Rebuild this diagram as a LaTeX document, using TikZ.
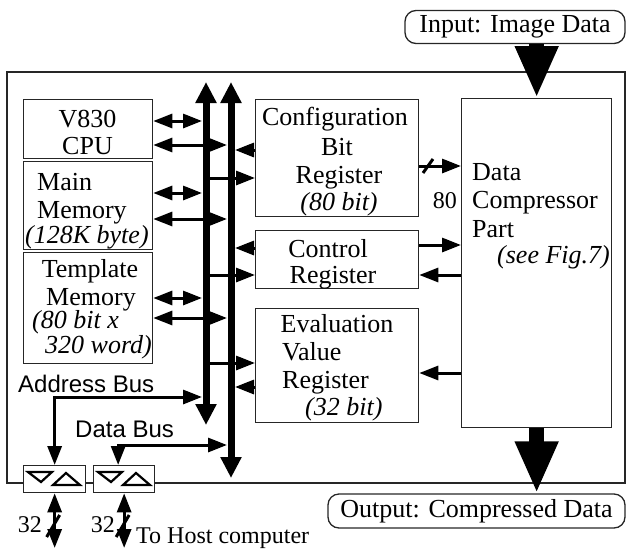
\documentclass[tikz,border=0pt]{standalone}
\usepackage{fontspec}
\setmainfont{Liberation Serif}
\setsansfont{Liberation Sans}
\usetikzlibrary{arrows.meta, positioning, calc}

\tikzset{
  box/.style={draw=black!85, line width=1.3pt, anchor=north west, inner sep=0pt, fill=white},
  txt/.style={font=\fontsize{26}{29}\selectfont, inner sep=0pt},
  itx/.style={font=\fontsize{26}{29}\selectfont\itshape, inner sep=0pt},
  small/.style={font=\fontsize{24}{27}\selectfont, inner sep=0pt},
  buslbl/.style={font=\sffamily\fontsize{24}{27}\selectfont, inner sep=0pt},
  pill/.style={draw=black!85, line width=1.3pt, rounded corners=11pt, inner sep=0pt, font=\fontsize{26}{29}\selectfont},
  con/.style={line width=3pt},
  bus/.style={line width=7pt, {Triangle[length=21pt,width=20pt]}-{Triangle[length=21pt,width=20pt]}},
  fat/.style={line width=15pt, -{Triangle[length=52pt,width=40pt]}},
  tick/.style={line width=3pt},
  tri/.style={line width=2.2pt, line join=miter},
}

\begin{document}
\begin{tikzpicture}[x=1pt, y=-1pt, >={Triangle[length=19pt,width=14pt]}]
    \useasboundingbox (0,0) rectangle (626,549);
    \draw[draw=black!85, line width=1.3pt] (7,72) rectangle (625,483);

    % left column
    \node[box, minimum width=129pt, minimum height=59pt] (cpu) at (23,99) {};
    \node[box, minimum width=129pt, minimum height=88pt] (mm) at (23,161) {};
    \node[box, minimum width=129pt, minimum height=111pt] (tm) at (23,252) {};
    \node[txt, anchor=base] (cpuA) at (87.5,127) {V830};
    \node[txt, anchor=base] (cpuB) at (87.5,154) {CPU};
    \node[txt, anchor=base west] (mmA) at (37,190) {Main};
    \node[txt, anchor=base west] (mmB) at (37,218) {Memory};
    \node[itx, anchor=base west] (mmC) at (25,243) {(128K byte)};
    \node[txt, anchor=base] (tmA) at (90,277) {Template};
    \node[txt, anchor=base] (tmB) at (91,305) {Memory};
    \node[itx, anchor=base west] (tmC) at (32,328) {(80 bit x};
    \node[itx, anchor=base west] (tmD) at (45,353) {320 word)};

    % registers
    \node[box, minimum width=163pt, minimum height=117pt] (cfg) at (255,99) {};
    \node[box, minimum width=163pt, minimum height=58pt] (cr) at (255,230) {};
    \node[box, minimum width=163pt, minimum height=114pt] (ev) at (255,308) {};
    \node[txt, anchor=base] (cfgA) at (335,125) {Configuration};
    \node[txt, anchor=base] (cfgB) at (337,155) {Bit};
    \node[txt, anchor=base] (cfgC) at (339,183) {Register};
    \node[itx, anchor=base] (cfgD) at (339,210) {(80 bit)};
    \node[txt, anchor=base] (crA) at (328,257) {Control};
    \node[txt, anchor=base] (crB) at (333,283) {Register};
    \node[txt, anchor=base] (evA) at (337,332) {Evaluation};
    \node[txt, anchor=base west] (evB) at (282,360) {Value};
    \node[txt, anchor=base west] (evC) at (282,388) {Register};
    \node[itx, anchor=base west] (evD) at (305,415) {(32 bit)};

    % compressor and data in/out
    \node[box, minimum width=150pt, minimum height=329pt] (dcp) at (461,98) {};
    \node[txt, anchor=base west] (dcpA) at (472,180) {Data};
    \node[txt, anchor=base west] (dcpB) at (472,208) {Compressor};
    \node[txt, anchor=base west] (dcpC) at (472,237) {Part};
    \node[itx, anchor=base west] (dcpD) at (497,263) {(see Fig.7)};
    \node[pill, minimum width=220pt, minimum height=33pt] (inbox) at (515,27) {Input: Image Data};
    \node[pill, minimum width=297pt, minimum height=34pt] (outbox) at (476.5,511) {Output: Compressed Data};
    \draw[fat] (dcp.north |- inbox.south) -- (dcp.north);
    \draw[fat] (dcp.south) -- (dcp.south |- outbox.north);

    % buses
    \coordinate (abT) at (206,82);
    \coordinate (abB) at (206,425);
    \coordinate (dbT) at (231,82);
    \coordinate (dbB) at (231,478);
    \draw[bus] (abT) -- (abB);
    \draw[bus] (dbT) -- (dbB);
    \node[buslbl, anchor=base west] (abL) at (18,392) {Address Bus};
    \node[buslbl, anchor=base west] (dbL) at (75,437) {Data Bus};

    \draw[con, <->, shorten >=4pt] (cpu.east |- 0,121) -- (abT |- 0,121);
    \draw[con, <->, shorten >=4pt] (cpu.east |- 0,145) -- (dbT |- 0,145);
    \draw[con, <->, shorten >=4pt] (mm.east |- 0,193) -- (abT |- 0,193);
    \draw[con, <->, shorten >=4pt] (mm.east |- 0,219) -- (dbT |- 0,219);
    \draw[con, <->, shorten >=4pt] (tm.east |- 0,298) -- (abT |- 0,298);
    \draw[con, <->, shorten >=4pt] (tm.east |- 0,318) -- (dbT |- 0,318);
    \draw[con, ->, shorten >=4pt] (cfg.west |- 0,150) -- (dbT |- 0,150);
    \draw[con, ->] (abT |- 0,178) -- (cfg.west |- 0,178);
    \draw[con, ->, shorten >=4pt] (cr.west |- 0,248) -- (dbT |- 0,248);
    \draw[con, ->] (abT |- 0,275) -- (cr.west |- 0,275);
    \draw[con, ->] (abT |- 0,363) -- (ev.west |- 0,363);
    \draw[con, ->, shorten >=4pt] (ev.west |- 0,387) -- (dbT |- 0,387);

    \draw[con, ->] (cfg.east |- 0,166) -- (dcp.west |- 0,166);
    \draw[tick] (423,173) -- (433,159);
    \node[small, anchor=base east] (w80) at (457,208) {80};
    \draw[con, ->] (cr.east |- 0,245) -- (dcp.west |- 0,245);
    \draw[con, ->] (dcp.west |- 0,275) -- (cr.east |- 0,275);
    \draw[con, ->] (dcp.west |- 0,373) -- (ev.east |- 0,373);

    % host interface
    \node[box, minimum width=62pt, minimum height=27pt] (buf1) at (23,465) {};
    \node[box, minimum width=61pt, minimum height=27pt] (buf2) at (93,465) {};
    \foreach \b in {buf1,buf2} {
        \draw[tri] ([shift={(5,7)}]\b.north west) -- ++(24,0) -- ++(-11,10) -- cycle;
        \draw[tri] ([shift={(30,20)}]\b.north west) -- ++(27,0) -- ++(-14,-12) -- cycle;
    }
    \draw[con, <->, shorten >=4pt] (buf1.north) |- (abT |- 0,397);
    \draw[con, <->, shorten >=4pt] ([xshift=-6pt]buf2.north) |- (dbT |- 0,445);

    \coordinate (h1) at (buf1.south |- 0,548);
    \coordinate (h2) at (buf2.south |- 0,548);
    \draw[con, <->] (buf1.south) -- (h1);
    \draw[con, <->] (buf2.south) -- (h2);
    \draw[tick] ($(buf1.south |- 0,526)+(-8,11)$) -- ++(13,-22);
    \draw[tick] ($(buf2.south |- 0,526)+(-8,11)$) -- ++(13,-22);
    \node[small, anchor=base east] (w32a) at (42,532) {32};
    \node[small, anchor=base east] (w32b) at (115,532) {32};
    \node[small, anchor=base west] (host) at (136,543) {To Host computer};
\end{tikzpicture}
\end{document}
